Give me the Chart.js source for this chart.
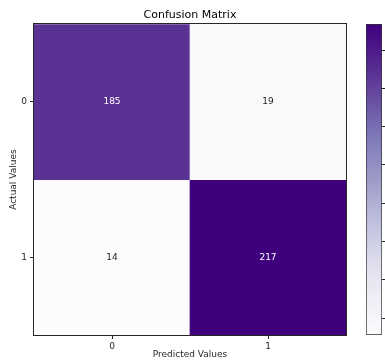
<!DOCTYPE html>
<html>
<head>
<meta charset="utf-8">
<script src="https://cdn.jsdelivr.net/npm/chart.js@4.4.1/dist/chart.umd.min.js"></script>
<style>
  html, body { margin: 0; padding: 0; overflow: hidden; background: #fff; }
  #wrap { position: relative; width: 385px; height: 364px; overflow: hidden; }
  #matrix { position: absolute; left: 0; top: 0; }
  #scaleBar { position: absolute; left: 355px; top: 0; }
</style>
</head>
<body>
<div id="wrap">
  <canvas id="matrix" width="385" height="364"></canvas>
  <canvas id="scaleBar" width="45" height="364"></canvas>
</div>
<script>
const predictedLabels = ["0", "1"];
const actualLabels = ["0", "1"];

// one array per actual class, one value per predicted class
const actual0 = [185, 19];
const actual1 = [14, 217];

const colorbarTicks = [25, 50, 75, 100, 125, 150, 175, 200];

const rows = [actual0, actual1];
const allValues = rows.flat();
const vMin = Math.min(...allValues);
const vMax = Math.max(...allValues);

/* PURPLES COLORMAP */
const purples = [
  "#fcfbfd", "#efedf5", "#dadaeb", "#bcbddc", "#9e9ac8",
  "#807dba", "#6a51a3", "#54278f", "#3f007d"
];

function hexToRgb(h) {
  return [
    parseInt(h.slice(1, 3), 16),
    parseInt(h.slice(3, 5), 16),
    parseInt(h.slice(5, 7), 16)
  ];
}

function purpleAt(v) {
  let t = (v - vMin) / (vMax - vMin);
  t = Math.max(0, Math.min(1, t));
  const pos = t * (purples.length - 1);
  const i = Math.min(Math.floor(pos), purples.length - 2);
  const f = pos - i;
  const a = hexToRgb(purples[i]);
  const b = hexToRgb(purples[i + 1]);
  const c = a.map((x, k) => Math.round(x + (b[k] - x) * f));
  return "rgb(" + c.join(",") + ")";
}

const inkColor = "#262626";
const font = "'DejaVu Sans', sans-serif";

/* CELL VALUES + FRAME */
const cellText = {
  id: "cellText",
  afterDatasetsDraw(chart) {
    const ctx = chart.ctx;
    const thresh = (vMin + vMax) / 2;
    ctx.save();
    ctx.font = "9px " + font;
    ctx.textAlign = "center";
    ctx.textBaseline = "middle";
    chart.data.datasets.forEach((ds, di) => {
      chart.getDatasetMeta(di).data.forEach((bar, j) => {
        const v = rows[di][j];
        ctx.fillStyle = v > thresh ? "#ffffff" : inkColor;
        ctx.fillText(String(v), bar.x, (bar.y + bar.base) / 2);
      });
    });
    const a = chart.chartArea;
    ctx.strokeStyle = inkColor;
    ctx.lineWidth = 1;
    ctx.strokeRect(
      Math.round(a.left) - 0.5, Math.round(a.top) - 0.5,
      Math.round(a.right - a.left) + 1, Math.round(a.bottom - a.top) + 1
    );
    ctx.restore();
  }
};

new Chart(document.getElementById("matrix"), {
  type: "bar",
  data: {
    labels: predictedLabels,
    datasets: rows.map((row, r) => ({
      data: row.map(() => [r - 0.5, r + 0.5]),
      backgroundColor: row.map(v => purpleAt(v)),
      borderWidth: 0,
      barPercentage: 1,
      categoryPercentage: 1,
      grouped: false
    }))
  },
  options: {
    responsive: false,
    animation: false,
    layout: { padding: { left: 0, right: 39, top: 0, bottom: 0 } },
    plugins: {
      legend: { display: false },
      tooltip: { enabled: false },
      title: {
        display: true,
        fullSize: false,
        text: "Confusion Matrix",
        color: "#000",
        font: { family: font, size: 11, weight: "normal" },
        padding: { top: 9, bottom: 2 }
      }
    },
    scales: {
      x: {
        afterFit(scale) { scale.height = 29; },
        grid: {
          offset: false,
          drawOnChartArea: false,
          tickLength: 4,
          tickColor: inkColor
        },
        border: { display: false },
        ticks: {
          color: inkColor,
          padding: 2,
          font: { family: font, size: 9 }
        },
        title: {
          display: true,
          text: "Predicted Values",
          color: inkColor,
          font: { family: font, size: 9 },
          padding: { top: 0, bottom: 4 }
        }
      },
      y: {
        min: -0.5,
        max: 1.5,
        reverse: true,
        afterFit(scale) { scale.width = 34; },
        afterBuildTicks(scale) {
          scale.ticks = actualLabels.map((_, i) => ({ value: i }));
        },
        grid: {
          drawOnChartArea: false,
          tickLength: 4,
          tickColor: inkColor
        },
        border: { display: false },
        ticks: {
          color: inkColor,
          padding: 3,
          font: { family: font, size: 9 },
          callback: v => actualLabels[v]
        },
        title: {
          display: true,
          text: "Actual Values",
          color: inkColor,
          font: { family: font, size: 9 },
          padding: { top: 8, bottom: 0 }
        }
      }
    }
  },
  plugins: [cellText]
});

/* COLORBAR */
new Chart(document.getElementById("scaleBar"), {
  type: "bar",
  data: {
    labels: [""],
    datasets: [{
      data: [[vMin, vMax]],
      backgroundColor(c) {
        const chart = c.chart;
        const y = chart.scales.y;
        if (!chart.chartArea || !y) return purples[4];
        const g = chart.ctx.createLinearGradient(
          0, y.getPixelForValue(vMin), 0, y.getPixelForValue(vMax)
        );
        purples.forEach((col, i) => g.addColorStop(i / (purples.length - 1), col));
        return g;
      },
      borderColor: "#333",
      borderWidth: 1,
      borderSkipped: false,
      barPercentage: 1,
      categoryPercentage: 1
    }]
  },
  options: {
    responsive: false,
    animation: false,
    layout: { padding: { left: 11, right: 0, top: 24, bottom: 29 } },
    plugins: {
      legend: { display: false },
      tooltip: { enabled: false }
    },
    scales: {
      x: { display: false },
      y: {
        position: "right",
        min: vMin,
        max: vMax,
        afterFit(scale) { scale.width = 18; },
        afterBuildTicks(scale) {
          scale.ticks = colorbarTicks.map(v => ({ value: v }));
        },
        grid: {
          drawOnChartArea: false,
          tickLength: 4,
          tickColor: inkColor
        },
        border: { display: false },
        ticks: { display: false }
      }
    }
  }
});
</script>
</body>
</html>
